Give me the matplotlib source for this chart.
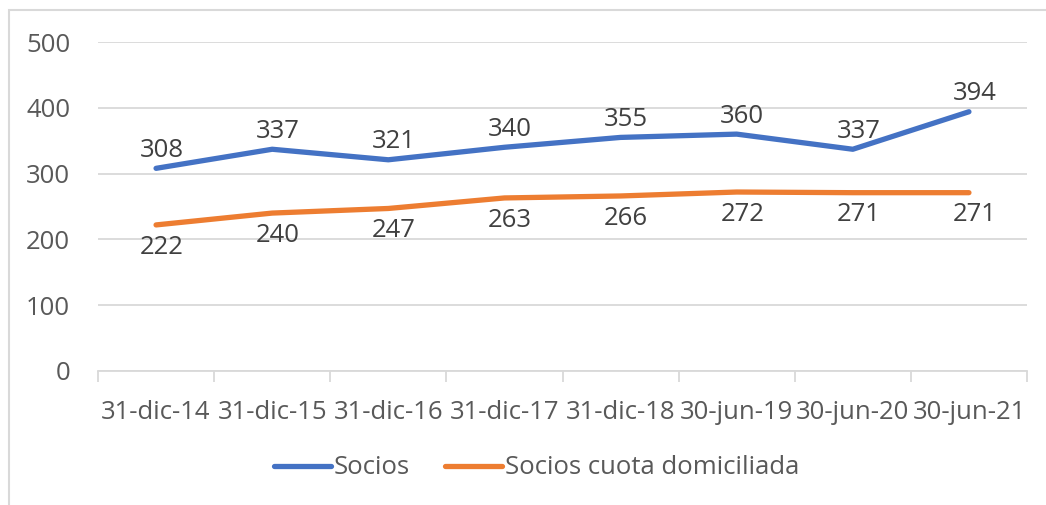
import matplotlib
matplotlib.use("Agg")
import matplotlib.pyplot as plt
from matplotlib.patches import Rectangle

categories = ["31-dic-14", "31-dic-15", "31-dic-16", "31-dic-17", "31-dic-18",
              "30-jun-19", "30-jun-20", "30-jun-21"]
socios = [308, 337, 321, 340, 355, 360, 337, 394]
socios_domiciliada = [222, 240, 247, 263, 266, 272, 271, 271]
yticks = [0, 100, 200, 300, 400, 500]

plt.rcParams['font.family'] = ['Open Sans', 'DejaVu Sans']
FS = 18.5
TICK_C = "#595959"
LABEL_C = "#404040"
GRID_C = "#D9D9D9"
BLUE = "#4472C4"
ORANGE = "#ED7D31"

fig = plt.figure(figsize=(10.46, 5.05), dpi=100)
fig.patches.append(Rectangle((9 / 1046, -0.1), 1.2, 1 - 10 / 505 + 0.1,
                             transform=fig.transFigure, fill=False,
                             edgecolor=GRID_C, linewidth=1.5, zorder=0))
ax = fig.add_axes([98 / 1046, 1 - 371 / 505, (1027 - 98) / 1046, (371 - 42) / 505])

x = list(range(len(categories)))
ax.plot(x, socios, color=BLUE, lw=3.8, solid_capstyle="round", label="Socios", zorder=3)
ax.plot(x, socios_domiciliada, color=ORANGE, lw=3.8, solid_capstyle="round",
        label="Socios cuota domiciliada", zorder=3)

for xi, v in zip(x, socios):
    ax.annotate(str(v), (xi, v), xytext=(4, 13), textcoords="offset points",
                ha="center", va="center", fontsize=FS, color=LABEL_C)
for xi, v in zip(x, socios_domiciliada):
    ax.annotate(str(v), (xi, v), xytext=(4, -16), textcoords="offset points",
                ha="center", va="center", fontsize=FS, color=LABEL_C)

ax.set_xlim(-0.5, len(categories) - 0.5)
ax.set_ylim(0, 500)
ax.set_yticks(yticks)
ax.set_yticklabels([str(t) for t in yticks])
ax.grid(axis="y", color=GRID_C, lw=1.3)
ax.set_axisbelow(True)

ax.set_xticks(x)
ax.set_xticklabels(categories)
ax.set_xticks([i - 0.5 for i in range(len(categories) + 1)], minor=True)
ax.tick_params(axis="x", which="major", length=0, pad=21, labelsize=FS, labelcolor=TICK_C)
ax.tick_params(axis="x", which="minor", length=8, width=1.3, color=GRID_C)
ax.tick_params(axis="y", length=0, pad=20, labelsize=FS, labelcolor=TICK_C)

for s in ["top", "right", "left"]:
    ax.spines[s].set_visible(False)
ax.spines["bottom"].set_color(GRID_C)
ax.spines["bottom"].set_linewidth(1.3)

leg = fig.legend(loc="center", bbox_to_anchor=(0.513, 1 - 468 / 505), ncol=2,
                 frameon=False, fontsize=FS, handlelength=2.2, handletextpad=0.1,
                 columnspacing=1.4, labelcolor=TICK_C)

fig.savefig("out.png", dpi=100)
